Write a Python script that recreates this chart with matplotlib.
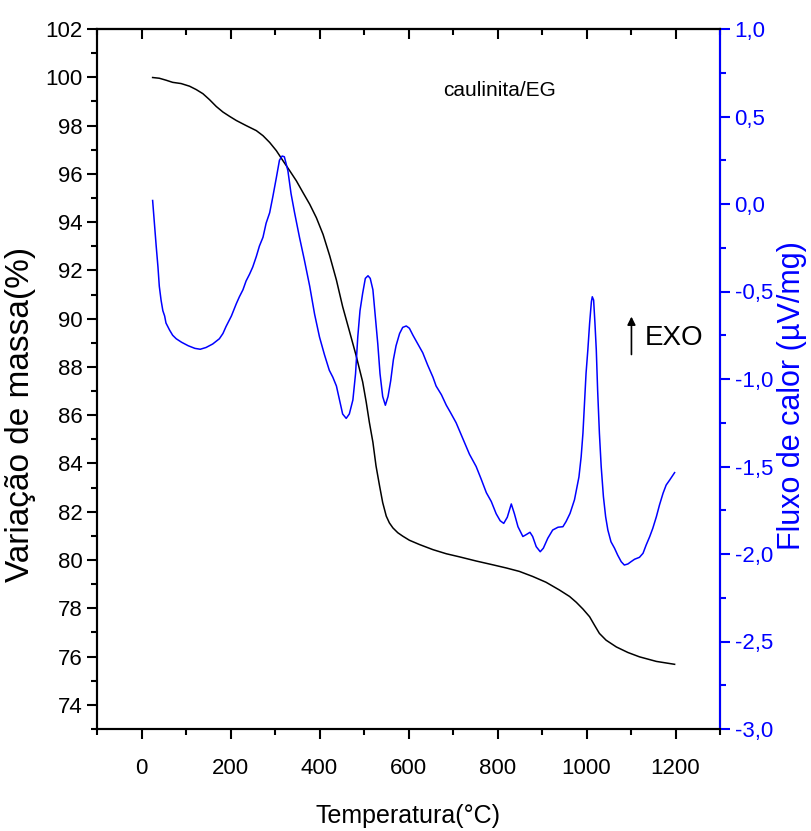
import matplotlib
matplotlib.use("Agg")
import matplotlib.pyplot as plt
from matplotlib.ticker import MultipleLocator, FuncFormatter

plt.rcParams['font.family'] = ['Liberation Sans', 'DejaVu Sans']

# TG (massa, eixo esquerdo)
temp_tg = [25, 40, 55, 70, 89, 108, 123, 138, 153, 168, 183, 198, 213, 235,
           258, 273, 288, 303, 318, 333, 348, 363, 378, 393, 408, 423, 438,
           452, 467, 482, 497, 505, 512, 520, 527, 535, 542, 550, 557, 565,
           576, 587, 602, 625, 655, 685, 715, 752, 790, 820, 849, 879, 909,
           939, 962, 977, 992, 1007, 1018, 1029, 1044, 1067, 1093, 1119, 1157,
           1198]
massa = [99.99, 99.96, 99.88, 99.79, 99.74, 99.63, 99.49, 99.32, 99.07, 98.79,
         98.56, 98.38, 98.21, 98.0, 97.79, 97.58, 97.3, 96.96, 96.54, 96.13,
         95.71, 95.22, 94.74, 94.18, 93.49, 92.6, 91.6, 90.5, 89.5, 88.49,
         87.38, 86.54, 85.71, 84.88, 83.9, 83.07, 82.38, 81.82, 81.54, 81.33,
         81.13, 80.99, 80.82, 80.64, 80.43, 80.26, 80.13, 79.96, 79.8, 79.67,
         79.53, 79.32, 79.08, 78.76, 78.49, 78.25, 77.97, 77.65, 77.3, 76.96,
         76.68, 76.4, 76.17, 75.99, 75.8, 75.68]

# DTA (fluxo de calor, eixo direito)
temp_dta = [25, 29, 33, 37, 40, 44, 48, 52, 55, 63, 70, 78, 90, 105, 120, 132,
            145, 160, 175, 183, 190, 202, 213, 220, 228, 235, 243, 250, 258,
            265, 273, 280, 288, 295, 303, 310, 316, 321, 329, 336, 344, 355,
            366, 378, 389, 400, 411, 422, 430, 438, 445, 452, 460, 467, 475,
            481, 486, 491, 497, 503, 509, 514, 520, 525, 531, 536, 542, 548,
            554, 560, 566, 572, 580, 587, 595, 602, 610, 621, 632, 643, 655,
            662, 674, 685, 694, 707, 722, 737, 752, 763, 775, 786, 797, 806,
            814, 822, 831, 838, 846, 857, 864, 873, 879, 887, 896, 903, 913,
            924, 936, 947, 954, 963, 973, 983, 988, 992, 996, 999, 1003, 1007,
            1011, 1013, 1016, 1019, 1022, 1025, 1029, 1033, 1038, 1043, 1048,
            1055, 1063, 1070, 1078, 1085, 1093, 1100, 1108, 1119, 1127, 1134,
            1142, 1149, 1157, 1164, 1172, 1179, 1187, 1198]
fluxo = [0.02, -0.11, -0.24, -0.36, -0.47, -0.55, -0.61, -0.64, -0.68, -0.72,
         -0.75, -0.77, -0.79, -0.81, -0.825, -0.83, -0.82, -0.80, -0.77,
         -0.74, -0.70, -0.64, -0.57, -0.53, -0.49, -0.44, -0.40, -0.36, -0.30,
         -0.24, -0.19, -0.11, -0.05, 0.04, 0.15, 0.25, 0.274, 0.27, 0.19,
         0.06, -0.05, -0.19, -0.32, -0.47, -0.63, -0.76, -0.86, -0.95, -0.99,
         -1.04, -1.12, -1.20, -1.225, -1.20, -1.12, -0.97, -0.76, -0.61, -0.51,
         -0.425, -0.41, -0.425, -0.49, -0.63, -0.80, -0.97, -1.10, -1.15, -1.10,
         -1.01, -0.89, -0.81, -0.74, -0.705, -0.697, -0.71, -0.75, -0.80,
         -0.85, -0.92, -0.99, -1.04, -1.09, -1.15, -1.19, -1.25, -1.34, -1.43,
         -1.50, -1.57, -1.65, -1.70, -1.77, -1.81, -1.825, -1.79, -1.714,
         -1.77, -1.844, -1.90, -1.89, -1.876, -1.90, -1.958, -1.987, -1.967,
         -1.91, -1.863, -1.847, -1.844, -1.815, -1.768, -1.69, -1.56, -1.444,
         -1.31, -1.12, -0.967, -0.834, -0.682, -0.558, -0.53, -0.549, -0.682,
         -0.834, -1.063, -1.31, -1.50, -1.672, -1.787, -1.863, -1.93, -1.967,
         -2.006, -2.044, -2.063, -2.057, -2.044, -2.03, -2.019, -1.996,
         -1.949, -1.901, -1.853, -1.787, -1.72, -1.653, -1.606, -1.577,
         -1.535]

fig = plt.figure(figsize=(8.11, 8.31), dpi=100)
ax = fig.add_axes([97 / 811, 1 - 729 / 831, 623 / 811, 700 / 831])
ax2 = ax.twinx()

ax.plot(temp_tg, massa, color='black', lw=1.1)
ax2.plot(temp_dta, fluxo, color='blue', lw=1.1)

ax.set_xlim(-100, 1300)
ax.set_ylim(73, 102)
ax2.set_ylim(-3.0, 1.0)

ax.xaxis.set_major_locator(MultipleLocator(200))
ax.xaxis.set_minor_locator(MultipleLocator(100))
ax.yaxis.set_major_locator(MultipleLocator(2))
ax.yaxis.set_minor_locator(MultipleLocator(1))
ax2.yaxis.set_major_locator(MultipleLocator(0.5))
ax2.yaxis.set_minor_locator(MultipleLocator(0.25))
ax2.yaxis.set_major_formatter(FuncFormatter(lambda v, p: f"{v:.1f}".replace('.', ',')))

for s in ax.spines.values():
    s.set_linewidth(1.5)
for s in ax2.spines.values():
    s.set_linewidth(1.5)
ax2.spines['right'].set_color('blue')

ax.tick_params(axis='both', which='major', length=7, width=1.5, labelsize=16, direction='out')
ax.tick_params(axis='both', which='minor', length=4, width=1.5, direction='out')
ax.tick_params(axis='x', which='major', pad=14)
ax2.tick_params(axis='y', which='major', length=7, width=1.5, colors='blue', labelsize=16)
ax2.tick_params(axis='y', which='minor', length=4, width=1.5, colors='blue')

# eixo de cima: so marcas para dentro
top = ax.secondary_xaxis('top')
top.xaxis.set_major_locator(MultipleLocator(200))
top.xaxis.set_minor_locator(MultipleLocator(100))
top.tick_params(which='major', direction='in', length=7, width=1.5, labeltop=False)
top.tick_params(which='minor', direction='in', length=4, width=1.5)
top.spines['top'].set_linewidth(1.5)

ax.set_xlabel("Temperatura(°C)", fontsize=18, labelpad=18)
ax.set_ylabel("Variação de massa(%)", fontsize=24)
ax.yaxis.set_label_coords(-0.098, 0.45)
ax2.set_ylabel("Fluxo de calor (µV/mg)", fontsize=22, color='blue')
ax2.yaxis.set_label_coords(1.092, 0.477)

ax.text(805, 99.46, "caulinita/EG", fontsize=15, ha='center', va='center')
ax.annotate("", xy=(1101, 90.2), xytext=(1101, 88.4),
            arrowprops=dict(arrowstyle='-|>', color='black', lw=1.2, mutation_scale=12))
ax.text(1132, 89.2, "EXO", fontsize=20, ha='left', va='center')

fig.savefig("out.png", dpi=100)
